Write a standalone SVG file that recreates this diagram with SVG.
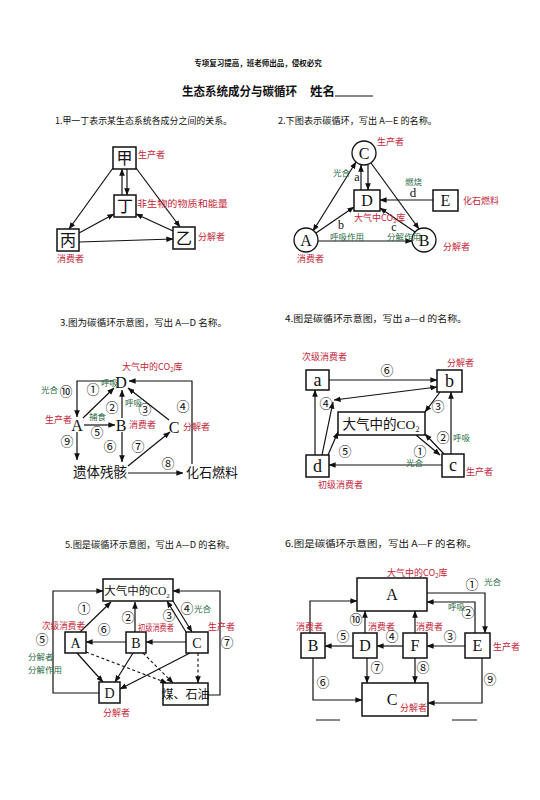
<svg xmlns="http://www.w3.org/2000/svg" width="540" height="800" viewBox="0 0 540 800">
<style>
.ln{stroke:#111;stroke-width:1.2;fill:none}
.ds{stroke:#111;stroke-width:1.1;fill:none;stroke-dasharray:3 2.5}
.bx{stroke:#111;stroke-width:1.5;fill:#fff}
.cj{font-family:"Noto Sans CJK SC",sans-serif;fill:#111}
.hd{font-family:"Noto Sans CJK SC",sans-serif;fill:#111;font-weight:bold}
.lt{font-family:"Liberation Serif",serif;fill:#111;text-anchor:middle}
.nd{font-family:"Noto Sans CJK SC",sans-serif;fill:#111;text-anchor:middle}
.n{font-family:"Noto Sans CJK SC",sans-serif;fill:#111;text-anchor:middle;font-size:13px}
.r{font-family:"Noto Sans CJK SC",sans-serif;fill:#c4263a;font-size:9px}
.g{font-family:"Noto Sans CJK SC",sans-serif;fill:#1f6b45;font-size:8.5px}
</style>
<defs>
<marker id="ah" viewBox="0 0 10 10" refX="9.5" refY="5" markerWidth="7" markerHeight="7" markerUnits="userSpaceOnUse" orient="auto-start-reverse"><path d="M0,1 L10,5 L0,9 z" fill="#111"/></marker>
</defs>
<rect width="540" height="800" fill="#fff"/>

<g id="header">
<text class="hd" x="258" y="66" font-size="7.5" text-anchor="middle">专项复习提高，班老师出品，侵权必究</text>
<text class="hd" x="182" y="96" font-size="12.5" textLength="115" lengthAdjust="spacingAndGlyphs">生态系统成分与碳循环</text>
<text class="hd" x="310" y="96" font-size="12.5">姓名</text>
<line x1="335" y1="96" x2="373" y2="96" stroke="#111" stroke-width="1"/>
<text class="cj" x="55" y="124" font-size="9" textLength="177" lengthAdjust="spacingAndGlyphs">1.甲一丁表示某生态系统各成分之间的关系。</text>
<text class="cj" x="278" y="124" font-size="9" textLength="159" lengthAdjust="spacingAndGlyphs">2.下图表示碳循环，写出 A—E 的名称。</text>
<text class="cj" x="60" y="326" font-size="9" textLength="167" lengthAdjust="spacingAndGlyphs">3.图为碳循环示意图，写出 A—D 名称。</text>
<text class="cj" x="285" y="322" font-size="9" textLength="182" lengthAdjust="spacingAndGlyphs">4.图是碳循环示意图，写出 a—d 的名称。</text>
<text class="cj" x="65" y="548" font-size="9" textLength="170" lengthAdjust="spacingAndGlyphs">5.图是碳循环示意图，写出 A—D 的名称。</text>
<text class="cj" x="285" y="547" font-size="9" textLength="192" lengthAdjust="spacingAndGlyphs">6.图是碳循环示意图，写出 A—F 的名称。</text>
</g>

<!-- Diagram 1 -->
<g id="d1-connectors">
<line class="ln" x1="113" y1="168" x2="69" y2="229" marker-end="url(#ah)"/>
<line class="ln" x1="136" y1="168" x2="180" y2="227" marker-end="url(#ah)"/>
<line class="ln" x1="122" y1="195" x2="122" y2="169" marker-end="url(#ah)"/>
<line class="ln" x1="127" y1="169" x2="127" y2="195" marker-end="url(#ah)"/>
<line class="ln" x1="79" y1="233" x2="114" y2="214" marker-end="url(#ah)"/>
<line class="ln" x1="173" y1="231" x2="136" y2="214" marker-end="url(#ah)"/>
<line class="ln" x1="79" y1="242" x2="173" y2="239" marker-end="url(#ah)"/>
</g>
<g id="d1-jia"><rect class="bx" x="113" y="147" width="23" height="22"/><text class="nd" x="124.5" y="164" font-size="16">甲</text><text class="r" x="138" y="158">生产者</text></g>
<g id="d1-ding"><rect class="bx" x="114" y="195" width="22" height="22"/><text class="nd" x="125" y="212" font-size="16">丁</text><text class="r" x="137" y="207" textLength="91" lengthAdjust="spacingAndGlyphs">非生物的物质和能量</text></g>
<g id="d1-bing"><rect class="bx" x="57" y="229" width="22" height="22"/><text class="nd" x="68" y="246" font-size="16">丙</text><text class="r" x="57" y="262">消费者</text></g>
<g id="d1-yi"><rect class="bx" x="173" y="227" width="22" height="22"/><text class="nd" x="184" y="244" font-size="16">乙</text><text class="r" x="198" y="240">分解者</text></g>

<!-- Diagram 2 -->
<g id="d2-connectors">
<line class="ln" x1="356" y1="162" x2="313" y2="231" marker-start="url(#ah)" marker-end="url(#ah)"/>
<line class="ln" x1="361" y1="190" x2="361" y2="165" marker-end="url(#ah)"/>
<line class="ln" x1="368" y1="164.5" x2="368" y2="190" marker-end="url(#ah)"/>
<line class="ln" x1="371" y1="163" x2="419" y2="229" marker-end="url(#ah)"/>
<line class="ln" x1="433" y1="200" x2="380" y2="200" marker-end="url(#ah)"/>
<line class="ln" x1="316" y1="233" x2="354" y2="207" marker-end="url(#ah)"/>
<line class="ln" x1="415" y1="232" x2="380" y2="208" marker-end="url(#ah)"/>
<line class="ln" x1="318" y1="241" x2="412" y2="241" marker-end="url(#ah)"/>
</g>
<g id="d2-C"><circle cx="364" cy="153" r="12" fill="#fff" stroke="#111" stroke-width="1.3"/><text class="lt" x="364" y="159" font-size="16">C</text><text class="r" x="377" y="145">生产者</text></g>
<g id="d2-D"><rect class="bx" x="354" y="190" width="26" height="21"/><text class="lt" x="367" y="206" font-size="16">D</text></g>
<g id="d2-E"><rect class="bx" x="433" y="190" width="25" height="21"/><text class="lt" x="445.5" y="206" font-size="16">E</text><text class="r" x="463" y="204">化石燃料</text></g>
<g id="d2-A"><circle cx="306" cy="240" r="12" fill="#fff" stroke="#111" stroke-width="1.3"/><text class="lt" x="306" y="246" font-size="16">A</text><text class="r" x="297" y="262">消费者</text></g>
<g id="d2-B"><circle cx="424" cy="240" r="12" fill="#fff" stroke="#111" stroke-width="1.3"/><text class="lt" x="424" y="246" font-size="16">B</text><text class="r" x="443" y="250">分解者</text></g>
<g id="d2-labels">
<text class="g" x="333" y="176">光合</text>
<text class="lt" x="357" y="181" font-size="12">a</text>
<text class="g" x="405" y="185">燃烧</text>
<text class="lt" x="413" y="197" font-size="13">d</text>
<text class="r" x="354" y="221" font-size="8">大气中CO<tspan font-size="5.5" dy="2">2</tspan><tspan dy="-2">库</tspan></text>
<text class="lt" x="341" y="229" font-size="12">b</text>
<text class="g" x="330" y="240">呼吸作用</text>
<text class="lt" x="394" y="231" font-size="12">c</text>
<text class="g" x="387" y="240" font-size="8">分解作用</text>
</g>

<!-- Diagram 3 -->
<g id="d3-connectors">
<polyline class="ln" points="114,381 77,381 77,417" marker-end="url(#ah)"/>
<line class="ln" x1="83" y1="418" x2="114" y2="388" marker-end="url(#ah)"/>
<line class="ln" x1="122" y1="418" x2="122" y2="390" marker-end="url(#ah)"/>
<line class="ln" x1="169" y1="420" x2="128" y2="388" marker-end="url(#ah)"/>
<polyline class="ln" points="192,464 192,381 129,381" marker-end="url(#ah)"/>
<line class="ln" x1="84" y1="425" x2="115" y2="425" marker-end="url(#ah)"/>
<line class="ln" x1="122" y1="432" x2="122" y2="462" marker-end="url(#ah)"/>
<line class="ln" x1="77" y1="432" x2="77" y2="460" marker-end="url(#ah)"/>
<line class="ln" x1="128" y1="466" x2="170" y2="432" marker-end="url(#ah)"/>
<line class="ln" x1="128" y1="473" x2="183" y2="473" marker-end="url(#ah)"/>
</g>
<g id="d3-D"><text class="lt" x="121" y="388" font-size="16">D</text><text class="r" x="122" y="370">大气中的CO<tspan font-size="6" dy="2">2</tspan><tspan dy="-2">库</tspan></text></g>
<g id="d3-A"><text class="lt" x="77" y="431" font-size="16">A</text><text class="r" x="45" y="423">生产者</text></g>
<g id="d3-B"><text class="lt" x="121" y="431" font-size="16">B</text><text class="r" x="129" y="428">消费者</text></g>
<g id="d3-C"><text class="lt" x="174" y="433" font-size="16">C</text><text class="r" x="183" y="430">分解者</text></g>
<g id="d3-remains"><text class="nd" x="100" y="477" font-size="13.5">遗体残骸</text></g>
<g id="d3-fossil"><text class="nd" x="212" y="477" font-size="13">化石燃料</text></g>
<g id="d3-labels">
<text class="n" x="66" y="396">⑩</text>
<text class="g" x="41" y="393">光合</text>
<text class="n" x="93" y="394">①</text>
<text class="g" x="101" y="386">呼吸</text>
<text class="n" x="112" y="412">②</text>
<text class="g" x="125" y="406">呼吸</text>
<text class="n" x="145" y="414">③</text>
<text class="n" x="183" y="411">④</text>
<text class="g" x="89" y="420" font-size="7.5">捕食</text>
<text class="n" x="97" y="437">⑤</text>
<text class="n" x="110" y="451">⑥</text>
<text class="n" x="138" y="451">⑦</text>
<text class="n" x="168" y="468">⑧</text>
<text class="n" x="67" y="446">⑨</text>
</g>

<!-- Diagram 4 -->
<g id="d4-connectors">
<line class="ln" x1="329" y1="380" x2="437" y2="380" marker-end="url(#ah)"/>
<line class="ln" x1="322" y1="455" x2="333" y2="402" marker-end="url(#ah)"/>
<line class="ln" x1="334" y1="400" x2="437" y2="387" marker-start="url(#ah)" marker-end="url(#ah)"/>
<line class="ln" x1="328" y1="455" x2="338" y2="432" marker-end="url(#ah)"/>
<line class="ln" x1="315" y1="455" x2="315" y2="390" marker-end="url(#ah)"/>
<line class="ln" x1="440" y1="392" x2="425" y2="412" marker-end="url(#ah)"/>
<line class="ln" x1="451" y1="454" x2="451" y2="392" marker-end="url(#ah)"/>
<line class="ln" x1="416" y1="435" x2="440" y2="455" marker-end="url(#ah)"/>
<line class="ln" x1="444" y1="454" x2="425" y2="434" marker-end="url(#ah)"/>
<line class="ln" x1="442" y1="465" x2="329" y2="465" marker-end="url(#ah)"/>
</g>
<g id="d4-a"><rect class="bx" x="306" y="370" width="23" height="20"/><text class="lt" x="317.5" y="386" font-size="18">a</text><text class="r" x="302" y="360">次级消费者</text></g>
<g id="d4-b"><rect class="bx" x="437" y="370" width="25" height="22"/><text class="lt" x="449.5" y="387" font-size="18">b</text><text class="r" x="447" y="366">分解者</text></g>
<g id="d4-co2"><rect class="bx" x="338" y="412" width="87" height="23"/><text class="nd" x="381" y="429" font-size="13.5">大气中的<tspan font-family="Liberation Serif">CO</tspan><tspan font-family="Liberation Serif" font-size="8" dy="3">2</tspan></text></g>
<g id="d4-d"><rect class="bx" x="306" y="455" width="23" height="22"/><text class="lt" x="317.5" y="472" font-size="18">d</text><text class="r" x="318" y="488">初级消费者</text></g>
<g id="d4-c"><rect class="bx" x="442" y="454" width="22" height="23"/><text class="lt" x="453" y="471" font-size="18">c</text><text class="r" x="466" y="475">生产者</text></g>
<g id="d4-labels">
<text class="n" x="387" y="375">⑥</text>
<text class="n" x="326" y="408">④</text>
<text class="n" x="438" y="411">③</text>
<text class="n" x="443" y="442">②</text>
<text class="g" x="453" y="441">呼吸</text>
<text class="n" x="420" y="456">①</text>
<text class="g" x="406" y="466">光合</text>
<text class="n" x="345" y="456">⑤</text>
</g>

<!-- Diagram 5 -->
<g id="d5-connectors">
<line class="ln" x1="80" y1="632" x2="111" y2="602" marker-end="url(#ah)"/>
<line class="ln" x1="135" y1="632" x2="135" y2="602" marker-end="url(#ah)"/>
<line class="ln" x1="173" y1="601" x2="192" y2="632" marker-end="url(#ah)"/>
<line class="ln" x1="186" y1="632" x2="167" y2="601" marker-end="url(#ah)"/>
<line class="ln" x1="126" y1="642" x2="86" y2="642" marker-end="url(#ah)"/>
<line class="ln" x1="186" y1="642" x2="146" y2="642" marker-end="url(#ah)"/>
<polyline class="ln" points="99,693 53,693 53,591 103,591" marker-end="url(#ah)"/>
<polyline class="ln" points="208,695 220,695 220,591 173,591" marker-end="url(#ah)"/>
<line class="ln" x1="77" y1="653" x2="103" y2="682" marker-end="url(#ah)"/>
<line class="ln" x1="133" y1="653" x2="115" y2="682" marker-end="url(#ah)"/>
<line class="ln" x1="190" y1="653" x2="120" y2="689" marker-end="url(#ah)"/>
<line class="ds" x1="86" y1="652" x2="167" y2="683" marker-end="url(#ah)"/>
<line class="ds" x1="143" y1="653" x2="173" y2="683" marker-end="url(#ah)"/>
<line class="ds" x1="198" y1="653" x2="198" y2="683" marker-end="url(#ah)"/>
</g>
<g id="d5-co2"><rect class="bx" x="103" y="579" width="70" height="22"/><text class="nd" x="137" y="595" font-size="11.5">大气中的<tspan font-family="Liberation Serif">CO</tspan><tspan font-family="Liberation Serif" font-size="7" dy="3">2</tspan></text></g>
<g id="d5-A"><rect class="bx" x="65" y="632" width="21" height="21"/><text class="lt" x="75.5" y="648" font-size="14">A</text><text class="r" x="42" y="629" textLength="43" lengthAdjust="spacingAndGlyphs">次级消费者</text></g>
<g id="d5-B"><rect class="bx" x="126" y="632" width="20" height="21"/><text class="lt" x="136" y="648" font-size="14">B</text><text class="r" x="138" y="631" textLength="36" lengthAdjust="spacingAndGlyphs">初级消费者</text></g>
<g id="d5-C"><rect class="bx" x="186" y="632" width="22" height="21"/><text class="lt" x="197" y="648" font-size="14">C</text><text class="r" x="208" y="630">生产者</text></g>
<g id="d5-D"><rect class="bx" x="99" y="682" width="21" height="21"/><text class="lt" x="109.5" y="698" font-size="14">D</text><text class="r" x="103" y="716">分解者</text></g>
<g id="d5-coal"><rect class="bx" x="163" y="683" width="45" height="22"/><text class="nd" x="185.5" y="699" font-size="12">煤、石油</text></g>
<g id="d5-labels">
<text class="n" x="84" y="613">①</text>
<text class="n" x="128" y="622">②</text>
<text class="n" x="169" y="620">③</text>
<text class="n" x="187" y="613">④</text>
<text class="g" x="194" y="612">光合</text>
<text class="n" x="42" y="644">⑤</text>
<text class="g" x="28" y="660">分解者</text>
<text class="g" x="28" y="673">分解作用</text>
<text class="n" x="104" y="634">⑥</text>
<text class="n" x="227" y="647">⑦</text>
</g>

<!-- Diagram 6 -->
<g id="d6-connectors">
<polyline class="ln" points="310,633 310,601 357,601" marker-end="url(#ah)"/>
<line class="ln" x1="365" y1="633" x2="365" y2="611" marker-end="url(#ah)"/>
<line class="ln" x1="415" y1="633" x2="415" y2="611" marker-end="url(#ah)"/>
<polyline class="ln" points="427,593 485,593 485,633" marker-end="url(#ah)"/>
<polyline class="ln" points="475,633 475,602 427,602" marker-end="url(#ah)"/>
<line class="ln" x1="465" y1="646" x2="427" y2="646" marker-end="url(#ah)"/>
<line class="ln" x1="403" y1="646" x2="377" y2="646" marker-end="url(#ah)"/>
<line class="ln" x1="353" y1="646" x2="325" y2="646" marker-end="url(#ah)"/>
<line class="ln" x1="367" y1="658" x2="367" y2="683" marker-end="url(#ah)"/>
<line class="ln" x1="415" y1="658" x2="415" y2="683" marker-end="url(#ah)"/>
<polyline class="ln" points="313,658 313,700 362,700" marker-end="url(#ah)"/>
<polyline class="ln" points="482,658 482,703 428,703" marker-end="url(#ah)"/>
</g>
<g id="d6-A"><rect class="bx" x="357" y="578" width="70" height="33"/><text class="lt" x="392" y="600" font-size="16">A</text><text class="r" x="387" y="576">大气中的CO<tspan font-size="6" dy="2">2</tspan><tspan dy="-2">库</tspan></text></g>
<g id="d6-B"><rect class="bx" x="301" y="633" width="24" height="25"/><text class="lt" x="313" y="651" font-size="16">B</text><text class="r" x="296" y="630">消费者</text></g>
<g id="d6-D"><rect class="bx" x="353" y="633" width="24" height="25"/><text class="lt" x="365" y="651" font-size="16">D</text><text class="r" x="368" y="630">消费者</text></g>
<g id="d6-F"><rect class="bx" x="403" y="633" width="24" height="25"/><text class="lt" x="415" y="651" font-size="16">F</text><text class="r" x="416" y="630">消费者</text></g>
<g id="d6-E"><rect class="bx" x="465" y="633" width="25" height="25"/><text class="lt" x="477.5" y="651" font-size="16">E</text><text class="r" x="493" y="650">生产者</text></g>
<g id="d6-C"><rect class="bx" x="362" y="683" width="66" height="33"/><text class="lt" x="392" y="705" font-size="16">C</text><text class="r" x="400" y="711">分解者</text></g>
<g id="d6-labels">
<text class="n" x="472" y="589">①</text>
<text class="g" x="484" y="585">光合</text>
<text class="n" x="468" y="617">②</text>
<text class="g" x="448" y="610">呼吸</text>
<text class="n" x="450" y="641">③</text>
<text class="n" x="392" y="641">④</text>
<text class="n" x="343" y="641">⑤</text>
<text class="n" x="356" y="624">⑩</text>
<text class="n" x="377" y="672">⑦</text>
<text class="n" x="423" y="672">⑧</text>
<text class="n" x="323" y="687">⑥</text>
<text class="n" x="490" y="684">⑨</text>
<line x1="316" y1="720" x2="340" y2="720" stroke="#111" stroke-width="1"/>
<line x1="452" y1="720" x2="477" y2="720" stroke="#111" stroke-width="1"/>
</g>
</svg>
